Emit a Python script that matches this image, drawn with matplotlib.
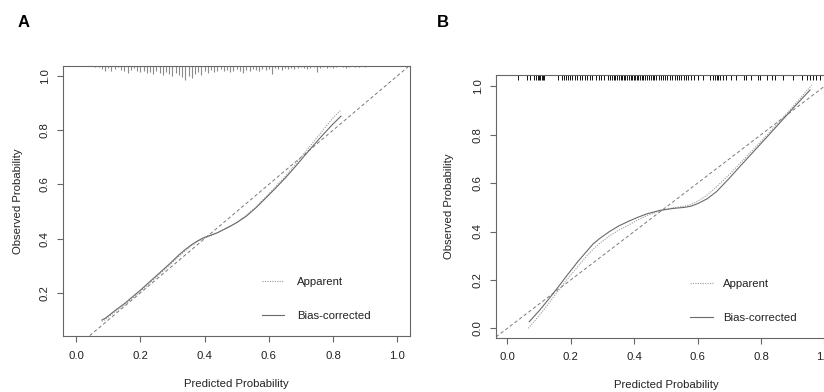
import numpy as np
import matplotlib
matplotlib.use("Agg")
import matplotlib.pyplot as plt

plt.rcParams['font.family'] = ['Liberation Sans', 'DejaVu Sans']

# ---------------- data ----------------
# Panel A calibration curves
a_x = [0.08, 0.09, 0.10, 0.12, 0.15, 0.18, 0.20, 0.23, 0.26, 0.29, 0.32, 0.34, 0.36,
       0.38, 0.40, 0.42, 0.44, 0.46, 0.48, 0.50, 0.53, 0.56, 0.59, 0.62, 0.65, 0.68,
       0.71, 0.74, 0.77, 0.80, 0.825]
a_bias = [0.100, 0.106, 0.115, 0.134, 0.160, 0.190, 0.210, 0.242, 0.274, 0.306, 0.340,
          0.360, 0.378, 0.393, 0.405, 0.413, 0.422, 0.434, 0.446, 0.459, 0.483, 0.514,
          0.549, 0.585, 0.622, 0.662, 0.704, 0.745, 0.785, 0.823, 0.852]
a_apparent = [0.095, 0.101, 0.110, 0.129, 0.155, 0.185, 0.205, 0.237, 0.269, 0.301,
              0.335, 0.356, 0.375, 0.391, 0.402, 0.411, 0.421, 0.433, 0.446, 0.460,
              0.486, 0.517, 0.553, 0.590, 0.628, 0.670, 0.714, 0.758, 0.802, 0.845, 0.875]
# Panel A spike histogram of predicted probabilities (bins of 0.01 from 0.06)
a_rug_start = 0.06
a_rug_counts = [1, 1, 3, 5, 2, 5, 3, 1, 4, 5, 7, 4, 2, 5, 6, 5, 7, 6, 8, 5,
                7, 9, 6, 8, 10, 7, 9, 11, 14, 10, 12, 8, 6, 9, 5, 7, 4, 6, 5, 3,
                5, 4, 6, 5, 3, 5, 7, 4, 5, 3, 4, 5, 3, 4, 3, 8, 2, 3, 4, 2,
                3, 2, 3, 2, 1, 2, 3, 2, 1, 6, 2, 1, 2, 1, 2, 1, 0, 1, 2, 1,
                0, 1, 1, 0, 1]

# Panel B calibration curves
b_x_bias = [0.069, 0.10, 0.13, 0.16, 0.19, 0.22, 0.25, 0.27, 0.29, 0.32, 0.35, 0.38,
            0.41, 0.44, 0.48, 0.52, 0.56, 0.58, 0.60, 0.63, 0.66, 0.70, 0.74, 0.78,
            0.82, 0.86, 0.90, 0.93, 0.955]
b_bias = [0.027, 0.072, 0.120, 0.170, 0.222, 0.272, 0.318, 0.348, 0.370, 0.398, 0.422,
          0.441, 0.458, 0.473, 0.487, 0.495, 0.500, 0.505, 0.515, 0.535, 0.565, 0.620,
          0.678, 0.735, 0.792, 0.850, 0.908, 0.950, 0.985]
b_x_app = [0.066, 0.10, 0.13, 0.16, 0.19, 0.22, 0.25, 0.27, 0.29, 0.32, 0.35, 0.38,
           0.41, 0.44, 0.48, 0.52, 0.56, 0.58, 0.60, 0.63, 0.66, 0.70, 0.74, 0.78,
           0.82, 0.86, 0.90, 0.93, 0.96]
b_apparent = [0.000, 0.052, 0.102, 0.155, 0.205, 0.252, 0.298, 0.326, 0.350, 0.380,
              0.405, 0.425, 0.447, 0.466, 0.485, 0.497, 0.505, 0.512, 0.525, 0.550,
              0.585, 0.635, 0.690, 0.745, 0.800, 0.857, 0.915, 0.960, 1.005]
# Panel B rug of predicted probabilities
b_rug = [0.033, 0.061, 0.070, 0.085, 0.090, 0.095, 0.100, 0.104, 0.108, 0.112, 0.117,
         0.160, 0.172, 0.178, 0.185, 0.190, 0.198, 0.205, 0.212, 0.220, 0.228, 0.236,
         0.245, 0.252, 0.260, 0.268, 0.280, 0.288, 0.296, 0.305, 0.318, 0.324, 0.330,
         0.336, 0.341, 0.347, 0.352, 0.357, 0.362, 0.368, 0.372, 0.378, 0.384, 0.389,
         0.394, 0.399, 0.404, 0.408, 0.413, 0.418, 0.424, 0.429, 0.434, 0.440, 0.446,
         0.452, 0.458, 0.463, 0.470, 0.478, 0.486, 0.492, 0.498, 0.505, 0.512, 0.518,
         0.528, 0.535, 0.542, 0.549, 0.556, 0.563, 0.570, 0.578, 0.590, 0.600, 0.618,
         0.640, 0.648, 0.654, 0.660, 0.666, 0.672, 0.680, 0.690, 0.705, 0.722, 0.745,
         0.752, 0.770, 0.790, 0.798, 0.820, 0.836, 0.845, 0.870, 0.900, 0.930, 0.945,
         0.955, 0.965, 0.975, 0.985]

x_ticks = [0.0, 0.2, 0.4, 0.6, 0.8, 1.0]
a_yticks = [0.2, 0.4, 0.6, 0.8, 1.0]
b_yticks = [0.0, 0.2, 0.4, 0.6, 0.8, 1.0]
legend_labels = ["Apparent", "Bias-corrected"]
x_label = "Predicted Probability"
y_label = "Observed Probability"

# ---------------- style ----------------
W, H = 824, 392
fig = plt.figure(figsize=(W / 100, H / 100), dpi=100)
FS = 8.2
TXT = '#222222'
BOX = '#666666'
C_IDEAL = '#7a7a7a'
C_APP = '#9a9a9a'
C_BIAS = '#6a6a6a'


def px_axes(left, top, right, bottom):
    return fig.add_axes([left / W, (H - bottom) / H, (right - left) / W, (bottom - top) / H])


def style(ax, xlim, ylim, yticks):
    ax.set_xlim(*xlim)
    ax.set_ylim(*ylim)
    ax.set_xticks(x_ticks)
    ax.set_yticks(yticks)
    ax.set_xticklabels([f"{t:.1f}" for t in x_ticks])
    ax.set_yticklabels([f"{t:.1f}" for t in yticks], rotation=90, va='center')
    ax.tick_params(axis='both', direction='out', length=4.3, width=0.8, color=BOX,
                   labelsize=FS, labelcolor=TXT)
    ax.tick_params(axis='x', pad=6.3)
    ax.tick_params(axis='y', pad=5.3)
    for s in ax.spines.values():
        s.set_color(BOX)
        s.set_linewidth(0.8)
    ax.set_xlabel(x_label, fontsize=FS, color=TXT)
    ax.set_ylabel(y_label, fontsize=FS, color=TXT)


def curves(ax, x_app, y_app, x_bias, y_bias, xlim):
    ax.plot(xlim, xlim, ls=(0, (3.5, 2.5)), color=C_IDEAL, lw=0.7)
    l1, = ax.plot(x_app, y_app, ls=(0, (1, 1.2)), color=C_APP, lw=0.8)
    l2, = ax.plot(x_bias, y_bias, ls='-', color=C_BIAS, lw=0.8)
    return l1, l2


# ---------------- panel A ----------------
axA = px_axes(63, 66, 410, 336)
a_xlim = (-0.041, 1.04)
a_ylim = (0.041, 1.037)
style(axA, a_xlim, a_ylim, a_yticks)
hA = curves(axA, a_x, a_apparent, a_x, a_bias, a_xlim)
bins = a_rug_start + 0.01 * np.arange(len(a_rug_counts))
counts = np.array(a_rug_counts, dtype=float)
mask = counts > 0
axA.vlines(bins[mask], 1.0, 1.0 - counts[mask] / 270.0,
           transform=axA.get_xaxis_transform(), color='#8a8a8a', lw=0.8)
axA.legend(hA, legend_labels, frameon=False, fontsize=FS, labelcolor=TXT,
           loc='upper left', bbox_to_anchor=(0.556, 0.241), borderpad=0,
           handlelength=2.0, handletextpad=1.1, labelspacing=2.1)
axA.xaxis.set_label_coords(0.5, -0.158)
axA.yaxis.set_label_coords(-0.114, 0.5)

# ---------------- panel B ----------------
axB = px_axes(496, 75, 837, 337.7)
b_xlim = (-0.036, 1.04)
b_ylim = (-0.039, 1.047)
style(axB, b_xlim, b_ylim, b_yticks)
hB = curves(axB, b_x_app, b_apparent, b_x_bias, b_bias, b_xlim)
axB.vlines(b_rug, 1.0, 1.0 - 5.0 / 262.7,
           transform=axB.get_xaxis_transform(), color='#111111', lw=0.7)
axB.legend(hB, legend_labels, frameon=False, fontsize=FS, labelcolor=TXT,
           loc='upper left', bbox_to_anchor=(0.552, 0.244), borderpad=0,
           handlelength=2.0, handletextpad=0.9, labelspacing=2.1)
axB.xaxis.set_label_coords(0.5, -0.1595)
axB.yaxis.set_label_coords(-0.122, 0.5)

fig.text(18 / W, (H - 27) / H, "A", fontsize=12, fontweight='bold', color='black', va='baseline')
fig.text(437 / W, (H - 27) / H, "B", fontsize=12, fontweight='bold', color='black', va='baseline')

fig.savefig("out.png", dpi=100)
